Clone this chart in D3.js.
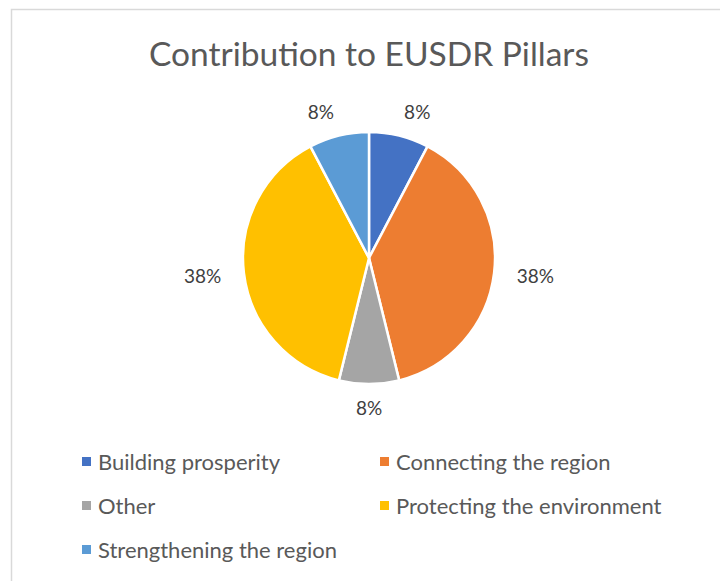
<!DOCTYPE html>
<html>
<head>
<meta charset="utf-8">
<script src="https://cdn.jsdelivr.net/npm/d3@7"></script>
<style>
  html, body { margin: 0; padding: 0; background: #fff; }
  svg { display: block; }
</style>
</head>
<body>
<svg id="chart" width="720" height="581"></svg>
<script>
const title = "Contribution to EUSDR Pillars";
const categories = ["Building prosperity", "Connecting the region", "Other", "Protecting the environment", "Strengthening the region"];
const values = [1, 5, 1, 5, 1];
const colors = ["#4472c4", "#ed7d31", "#a5a5a5", "#ffc000", "#5b9bd5"];

const svg = d3.select("#chart");
const font = "Lato, 'Open Sans', sans-serif";

// chart area frame
svg.append("rect")
  .attr("x", 11.5).attr("y", 9.5)
  .attr("width", 740).attr("height", 600)
  .attr("fill", "#fff").attr("stroke", "#d9d9d9").attr("stroke-width", 1.5);

svg.append("text")
  .attr("x", 369).attr("y", 66)
  .attr("text-anchor", "middle")
  .attr("font-family", font).attr("font-size", 33.5)
  .attr("fill", "#595959")
  .text(title);

const cx = 369, cy = 258, r = 126;
const total = d3.sum(values);
const pie = d3.pie().sort(null).value(d => d)(values);
const arc = d3.arc().innerRadius(0).outerRadius(r);
const labelR = 150;

const g = svg.append("g").attr("transform", `translate(${cx},${cy})`);
g.selectAll("path").data(pie).join("path")
  .attr("d", arc)
  .attr("fill", (d, i) => colors[i])
  .attr("stroke", "#fff").attr("stroke-width", 2.5).attr("stroke-linejoin", "round");

// percentage labels outside the pie, pushed sideways by half their width
g.selectAll("text.lbl").data(pie).join("text")
  .attr("class", "lbl")
  .attr("text-anchor", "middle").attr("dy", "0.35em")
  .attr("font-family", font).attr("font-size", 19)
  .attr("fill", "#404040")
  .text(d => Math.round(d.data / total * 100) + "%")
  .each(function (d) {
    const a = (d.startAngle + d.endAngle) / 2;
    const w = this.getComputedTextLength();
    const s = Math.sin(a);
    const nudge = Math.abs(s) < 0.02 ? 0 : Math.sign(s) * w * 0.47;
    const x = labelR * s + nudge;
    const y = -labelR * Math.cos(a);
    d3.select(this).attr("x", x).attr("y", y);
  });

// legend: two columns
const legend = svg.append("g");
const items = legend.selectAll("g").data(categories).join("g")
  .attr("transform", (d, i) => `translate(${i % 2 ? 380 : 82},${462 + Math.floor(i / 2) * 44})`);
items.append("rect")
  .attr("x", 0).attr("y", -5).attr("width", 9).attr("height", 9)
  .attr("fill", (d, i) => colors[i]);
items.append("text")
  .attr("x", 16).attr("dy", "0.35em")
  .attr("font-family", font).attr("font-size", 22)
  .attr("fill", "#595959")
  .text(d => d);
</script>
</body>
</html>
